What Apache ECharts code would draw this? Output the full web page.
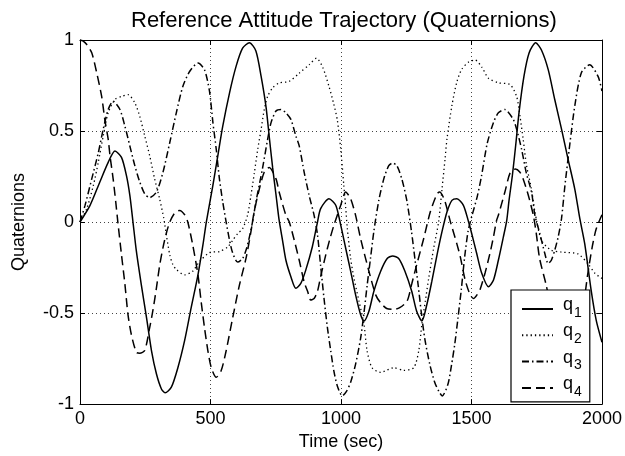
<!DOCTYPE html>
<html><head><meta charset="utf-8">
<script src="https://cdn.jsdelivr.net/npm/echarts@6/dist/echarts.min.js"></script>
<style>html,body{margin:0;padding:0;background:#fff}#c{width:625px;height:456px}</style>
</head><body><div id="c"></div>
<script>
const titleText = 'Reference Attitude Trajectory (Quaternions)';
const xName = 'Time (sec)';
const yName = 'Quaternions';
const xTicks = [0, 500, 1000, 1500, 2000];
const yTicks = [-1, -0.5, 0, 0.5, 1];
const seriesNames = ['q1', 'q2', 'q3', 'q4'];

// [time (sec), value]
const q1Data = [[0,0],[38,0.09],[76,0.22],[108,0.328],[134,0.39],[159,0.355],[178,0.255],[191,0.146],[203,0],[216,-0.16],[235,-0.345],[255,-0.526],[274,-0.707],[293,-0.835],[312,-0.917],[326,-0.938],[350,-0.907],[375,-0.80],[401,-0.65],[426,-0.47],[452,-0.29],[471,-0.126],[484,0],[509,0.2],[528,0.364],[547,0.527],[573,0.71],[598,0.855],[623,0.955],[649,0.985],[674,0.94],[694,0.80],[713,0.63],[725,0.47],[738,0.30],[751,0.15],[763,0.01],[776,-0.10],[789,-0.21],[808,-0.30],[827,-0.364],[846,-0.337],[865,-0.264],[890,-0.137],[910,0],[922,0.074],[954,0.128],[980,0.092],[999,-0.017],[1018,-0.144],[1037,-0.27],[1056,-0.40],[1075,-0.508],[1088,-0.544],[1107,-0.49],[1126,-0.38],[1152,-0.27],[1177,-0.2],[1198,-0.186],[1221,-0.2],[1245,-0.27],[1271,-0.38],[1290,-0.49],[1310,-0.544],[1329,-0.453],[1348,-0.326],[1368,-0.18],[1387,-0.053],[1406,0.055],[1425,0.119],[1444,0.128],[1469,0.092],[1489,0],[1501,-0.064],[1520,-0.173],[1539,-0.28],[1565,-0.355],[1584,-0.32],[1603,-0.21],[1622,-0.083],[1635,0.008],[1644,0.12],[1657,0.26],[1670,0.43],[1682,0.60],[1701,0.80],[1721,0.93],[1746,0.985],[1768,0.945],[1794,0.837],[1819,0.673],[1845,0.51],[1870,0.346],[1896,0.18],[1915,0.02],[1934,-0.12],[1959,-0.38],[1978,-0.54],[2000,-0.66]];

const q2Data = [[0,0],[26,0.074],[51,0.2],[70,0.328],[89,0.473],[108,0.60],[134,0.673],[159,0.69],[184,0.70],[210,0.655],[229,0.58],[248,0.473],[267,0.364],[286,0.237],[305,0.128],[321,0.02],[331,-0.072],[344,-0.18],[356,-0.235],[369,-0.26],[401,-0.29],[432,-0.27],[458,-0.217],[496,-0.168],[534,-0.162],[566,-0.137],[585,-0.10],[604,-0.064],[623,-0.037],[642,0.037],[655,0.146],[668,0.27],[681,0.40],[694,0.51],[706,0.618],[719,0.69],[738,0.737],[763,0.764],[802,0.773],[840,0.818],[878,0.864],[906,0.90],[930,0.85],[954,0.745],[972,0.65],[986,0.56],[999,0.40],[1011,0.2],[1018,0.08],[1024,-0.03],[1037,-0.2],[1050,-0.31],[1069,-0.435],[1088,-0.56],[1100,-0.707],[1119,-0.80],[1152,-0.826],[1202,-0.80],[1240,-0.815],[1279,-0.80],[1298,-0.707],[1310,-0.56],[1323,-0.435],[1336,-0.31],[1355,-0.145],[1374,0],[1387,0.18],[1399,0.35],[1406,0.455],[1425,0.64],[1444,0.77],[1463,0.84],[1490,0.88],[1514,0.89],[1540,0.85],[1565,0.79],[1603,0.765],[1648,0.755],[1673,0.69],[1686,0.58],[1698,0.455],[1711,0.31],[1730,0.18],[1743,0.057],[1768,-0.10],[1806,-0.155],[1845,-0.165],[1908,-0.175],[1947,-0.23],[1972,-0.28],[2000,-0.31]];

const q3Data = [[0,0],[19,0.09],[45,0.237],[70,0.38],[89,0.51],[108,0.618],[127,0.664],[153,0.618],[172,0.527],[191,0.418],[210,0.31],[229,0.22],[248,0.155],[267,0.134],[293,0.165],[318,0.274],[344,0.437],[369,0.60],[394,0.745],[420,0.827],[452,0.873],[477,0.837],[496,0.72],[509,0.55],[522,0.40],[534,0.24],[547,0.11],[560,0.0],[573,-0.10],[585,-0.17],[604,-0.22],[623,-0.2],[636,-0.155],[649,-0.083],[662,0.008],[674,0.11],[700,0.30],[719,0.455],[732,0.546],[751,0.61],[770,0.618],[789,0.60],[808,0.564],[827,0.473],[840,0.418],[859,0.273],[878,0.146],[897,0.037],[910,-0.07],[922,-0.24],[935,-0.42],[948,-0.58],[961,-0.71],[973,-0.82],[986,-0.90],[1005,-0.955],[1021,-0.93],[1037,-0.88],[1056,-0.78],[1075,-0.64],[1088,-0.50],[1100,-0.35],[1113,-0.20],[1126,-0.05],[1145,0.12],[1164,0.237],[1183,0.31],[1198,0.324],[1214,0.31],[1233,0.237],[1252,0.12],[1270,-0.05],[1283,-0.20],[1296,-0.35],[1308,-0.50],[1321,-0.64],[1340,-0.78],[1359,-0.88],[1375,-0.93],[1388,-0.955],[1410,-0.89],[1423,-0.79],[1436,-0.67],[1448,-0.53],[1461,-0.37],[1474,-0.19],[1487,-0.05],[1501,0.03],[1522,0.14],[1538,0.25],[1560,0.43],[1584,0.546],[1603,0.60],[1628,0.618],[1660,0.564],[1673,0.51],[1692,0.40],[1710,0.27],[1730,0.165],[1743,0.037],[1762,-0.064],[1781,-0.173],[1794,-0.228],[1806,-0.21],[1819,-0.155],[1832,-0.083],[1845,0.02],[1858,0.20],[1877,0.43],[1896,0.64],[1921,0.82],[1953,0.864],[1985,0.80],[2000,0.72]];

const q4Data = [[0,1.0],[11,0.995],[26,0.975],[45,0.93],[64,0.82],[83,0.69],[95,0.564],[108,0.455],[115,0.364],[127,0.237],[137,0.11],[145,0.0],[159,-0.18],[172,-0.34],[184,-0.51],[197,-0.62],[216,-0.716],[229,-0.72],[248,-0.706],[267,-0.58],[280,-0.48],[293,-0.36],[305,-0.24],[318,-0.14],[331,-0.06],[344,0.0],[363,0.05],[382,0.064],[401,0.04],[413,0.0],[432,-0.126],[452,-0.29],[464,-0.435],[477,-0.58],[490,-0.707],[503,-0.80],[522,-0.853],[541,-0.816],[560,-0.707],[585,-0.526],[611,-0.345],[636,-0.2],[655,-0.053],[664,0.03],[681,0.146],[706,0.275],[725,0.30],[751,0.237],[763,0.165],[789,0.037],[802,0.0],[821,-0.10],[840,-0.21],[859,-0.33],[872,-0.38],[884,-0.428],[897,-0.42],[910,-0.38],[922,-0.30],[935,-0.22],[948,-0.144],[960,-0.08],[973,-0.017],[999,0.092],[1018,0.165],[1037,0.128],[1056,0.037],[1075,-0.09],[1107,-0.27],[1133,-0.40],[1152,-0.444],[1175,-0.475],[1202,-0.48],[1225,-0.47],[1253,-0.435],[1271,-0.34],[1290,-0.235],[1317,-0.09],[1342,0.055],[1368,0.155],[1378,0.165],[1397,0.12],[1418,0.008],[1444,-0.12],[1457,-0.19],[1476,-0.32],[1495,-0.40],[1508,-0.42],[1521,-0.40],[1533,-0.37],[1552,-0.28],[1571,-0.17],[1584,-0.083],[1596,0.008],[1603,0.037],[1628,0.165],[1648,0.27],[1668,0.292],[1685,0.275],[1698,0.237],[1718,0.146],[1737,0.037],[1748,-0.06],[1761,-0.2],[1786,-0.345],[1812,-0.526],[1837,-0.707],[1856,-0.816],[1875,-0.853],[1894,-0.80],[1907,-0.707],[1920,-0.58],[1932,-0.435],[1945,-0.29],[1964,-0.126],[1978,-0.037],[2000,0.04]];

const seriesData = [q1Data, q2Data, q3Data, q4Data];
const lineTypes = ['solid', [1.3, 3], [7, 3, 1.5, 3], [9, 5]];
const lineWidths = [1.5, 1.3, 1.5, 1.5];

const FONT = '"Liberation Sans", Arial, Helvetica, sans-serif';
const chart = echarts.init(document.getElementById('c'), null, { renderer: 'canvas' });

const axisCommon = {
  type: 'value',
  axisLine: { show: true, onZero: false, lineStyle: { color: '#000', width: 1 } },
  axisTick: { show: true, inside: true, length: 5, lineStyle: { color: '#000', width: 1 } },
  minorTick: { show: false }
};

chart.setOption({
  animation: false,
  backgroundColor: '#fff',
  textStyle: { fontFamily: FONT },
  graphic: [{
    type: 'text', left: 344 - 213, top: 10,
    style: { text: titleText, font: '22px ' + FONT, fill: '#000' }
  }],
  grid: { left: 80, right: 21, top: 40, bottom: 49, containLabel: false },
  xAxis: [
    Object.assign({}, axisCommon, {
      position: 'bottom', min: xTicks[0], max: xTicks[xTicks.length - 1], interval: xTicks[1] - xTicks[0],
      name: xName, nameLocation: 'middle', nameGap: 27,
      nameTextStyle: { fontSize: 18, color: '#000', fontFamily: FONT },
      axisLabel: { show: true, margin: 6, fontSize: 18, color: '#000', fontFamily: FONT,
        formatter: v => String(v) },
      splitLine: { show: true, lineStyle: { color: '#444', width: 1, type: [1, 3] } }
    }),
    Object.assign({}, axisCommon, {
      position: 'top', min: xTicks[0], max: xTicks[xTicks.length - 1], interval: xTicks[1] - xTicks[0],
      axisLabel: { show: false }, splitLine: { show: false }
    })
  ],
  yAxis: [
    Object.assign({}, axisCommon, {
      position: 'left', min: yTicks[0], max: yTicks[yTicks.length - 1], interval: yTicks[1] - yTicks[0],
      name: yName, nameLocation: 'middle', nameGap: 52, nameRotate: 90,
      nameTextStyle: { fontSize: 18, color: '#000', fontFamily: FONT },
      axisLabel: { show: true, margin: 6, fontSize: 18, color: '#000', fontFamily: FONT,
        formatter: v => String(v) },
      splitLine: { show: true, lineStyle: { color: '#444', width: 1, type: [1, 3] } }
    }),
    Object.assign({}, axisCommon, {
      position: 'right', min: yTicks[0], max: yTicks[yTicks.length - 1], interval: yTicks[1] - yTicks[0],
      axisLabel: { show: false }, splitLine: { show: false }
    })
  ],
  legend: {
    data: seriesNames,
    orient: 'vertical',
    left: 511, top: 290,
    backgroundColor: '#fff', borderColor: '#000', borderWidth: 1.2,
    padding: [6, 8, 3, 10],
    itemWidth: 31, itemHeight: 14, itemGap: 2.3,
    selectedMode: false,
    itemStyle: { opacity: 0 },
    formatter: name => '{q|' + name.charAt(0) + '}{s|' + name.slice(1) + '}',
    textStyle: {
      color: '#000',
      rich: {
        q: { fontSize: 18, fontFamily: FONT, color: '#000', padding: [0, 0, 8, 5], verticalAlign: 'middle' },
        s: { fontSize: 14, fontFamily: FONT, color: '#000', padding: [8, 0, 0, 1], verticalAlign: 'middle' }
      }
    }
  },
  series: seriesNames.map((n, i) => ({
    name: n, type: 'line', xAxisIndex: 0, yAxisIndex: 0,
    data: seriesData[i], showSymbol: false, symbol: 'none', smooth: 0.25,
    lineStyle: { color: '#000', width: lineWidths[i], type: lineTypes[i] },
    itemStyle: { color: '#000' },
    z: 2
  }))
});
</script>
</body></html>
